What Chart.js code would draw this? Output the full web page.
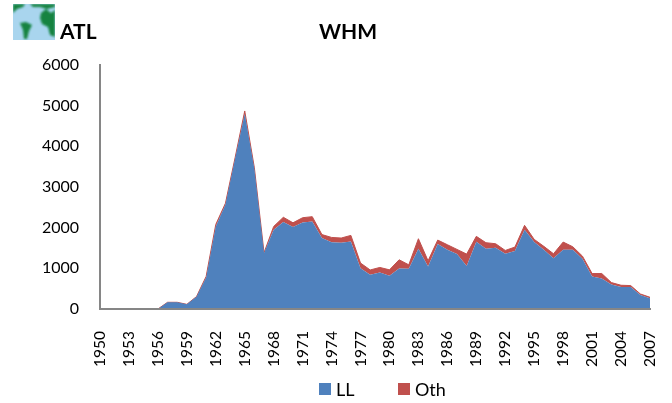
<!DOCTYPE html>
<html>
<head>
<meta charset="utf-8">
<title>ATL WHM</title>
<script src="https://cdn.jsdelivr.net/npm/chart.js@4"></script>
<style>
  html, body { margin: 0; padding: 0; background: #fff; }
  #wrap { position: relative; width: 672px; height: 403px; overflow: hidden; }
  #logo { position: absolute; left: 13px; top: 4px; width: 42px; height: 36px; }
  .head { position: absolute; top: 18px; font: bold 21px Lato, sans-serif; color: #000; }
  .key { position: absolute; top: 378px; font: 18px Lato, sans-serif; color: #000; line-height: 22px; }
  .key i { position: absolute; left: -17px; top: 5px; width: 12px; height: 12px; }
</style>
</head>
<body>
<div id="wrap">
  <canvas id="chart" width="672" height="403"></canvas>
  <svg id="logo" viewBox="0 0 42 36">
    <defs><filter id="soft"><feGaussianBlur stdDeviation="0.9"/></filter></defs>
    <rect width="42" height="36" fill="#a9d5ee"/>
    <g fill="#13833f" filter="url(#soft)">
      <path d="M0 0H12L10 3L4 5L0 9Z"/>
      <path d="M17 0H42V3L34 5L27 3L20 3Z"/>
      <path d="M7 19L13 18L19 21L16 27L14 35L11 35L10 26Z"/>
      <path d="M28 9L33 5L38 9L42 6V33L37 31L35 23L29 20L27 14Z"/>
    </g>
  </svg>
  <div class="head" style="left:60px">ATL</div>
  <div class="head" style="left:319px">WHM</div>
  <div id="legend"></div>
</div>
<script>
const years = [1950,1951,1952,1953,1954,1955,1956,1957,1958,1959,1960,1961,1962,1963,1964,1965,1966,1967,1968,1969,1970,1971,1972,1973,1974,1975,1976,1977,1978,1979,1980,1981,1982,1983,1984,1985,1986,1987,1988,1989,1990,1991,1992,1993,1994,1995,1996,1997,1998,1999,2000,2001,2002,2003,2004,2005,2006,2007];
const llValues = [0,0,0,0,0,0,0,165,165,115,300,775,2030,2570,3700,4800,3450,1375,1950,2140,2015,2130,2150,1745,1640,1630,1660,1005,840,897,815,996,988,1480,1045,1597,1457,1350,1060,1654,1480,1506,1358,1424,1950,1646,1457,1250,1457,1457,1234,798,750,600,543,543,345,263];
const othValues = [0,0,0,0,0,0,0,0,0,0,5,25,50,30,20,70,20,10,80,115,105,115,120,85,120,115,150,125,120,125,148,214,98,248,140,98,123,115,290,132,150,99,82,98,107,66,83,108,189,73,66,74,122,50,41,33,25,25];
const seriesNames = ['LL', 'Oth'];
const seriesColors = ['#4f81bd', '#c0504d'];
const legendLeft = [336, 415];
const axisGrey = '#868686';

// legend sits off-centre in the original, so it is plain html
seriesNames.forEach((name, i) => {
  const el = document.createElement('div');
  el.className = 'key';
  el.style.left = legendLeft[i] + 'px';
  el.innerHTML = '<i style="background:' + seriesColors[i] + '"></i>' + name;
  document.getElementById('legend').appendChild(el);
});

new Chart(document.getElementById('chart'), {
  type: 'line',
  data: {
    labels: years,
    datasets: [
      { label: seriesNames[0], data: llValues, backgroundColor: seriesColors[0], borderColor: seriesColors[0], borderWidth: 0, fill: 'origin' },
      { label: seriesNames[1], data: othValues, backgroundColor: seriesColors[1], borderColor: seriesColors[1], borderWidth: 1, fill: '-1' }
    ]
  },
  options: {
    responsive: false,
    animation: false,
    elements: { point: { radius: 0 }, line: { tension: 0 } },
    layout: { padding: { left: 0, right: 22, top: 65, bottom: 0 } },
    plugins: {
      tooltip: { enabled: false },
      legend: { display: false }
    },
    scales: {
      x: {
        offset: false,
        grid: { display: false },
        border: { color: axisGrey, width: 2, z: 1 },
        // rotated labels + big tick padding eat into the plot width otherwise
        afterFit: s => { s.height = 94; s.paddingLeft = 0; s.paddingRight = 0; },
        ticks: {
          autoSkip: false,
          minRotation: 90, maxRotation: 90,
          padding: 14,
          color: '#000',
          font: { family: 'Lato', size: 15.5 },
          callback: (v, i) => i % 3 === 0 ? years[i] : ''
        }
      },
      y: {
        stacked: true,
        min: 0, max: 6000,
        grid: { display: false },
        border: { color: axisGrey, width: 2, z: 1 },
        afterFit: s => { s.width = 100; },
        ticks: {
          stepSize: 1000,
          padding: 13,
          color: '#000',
          font: { family: 'Lato', size: 16 },
          callback: v => String(v)
        }
      }
    }
  }
});
</script>
</body>
</html>
